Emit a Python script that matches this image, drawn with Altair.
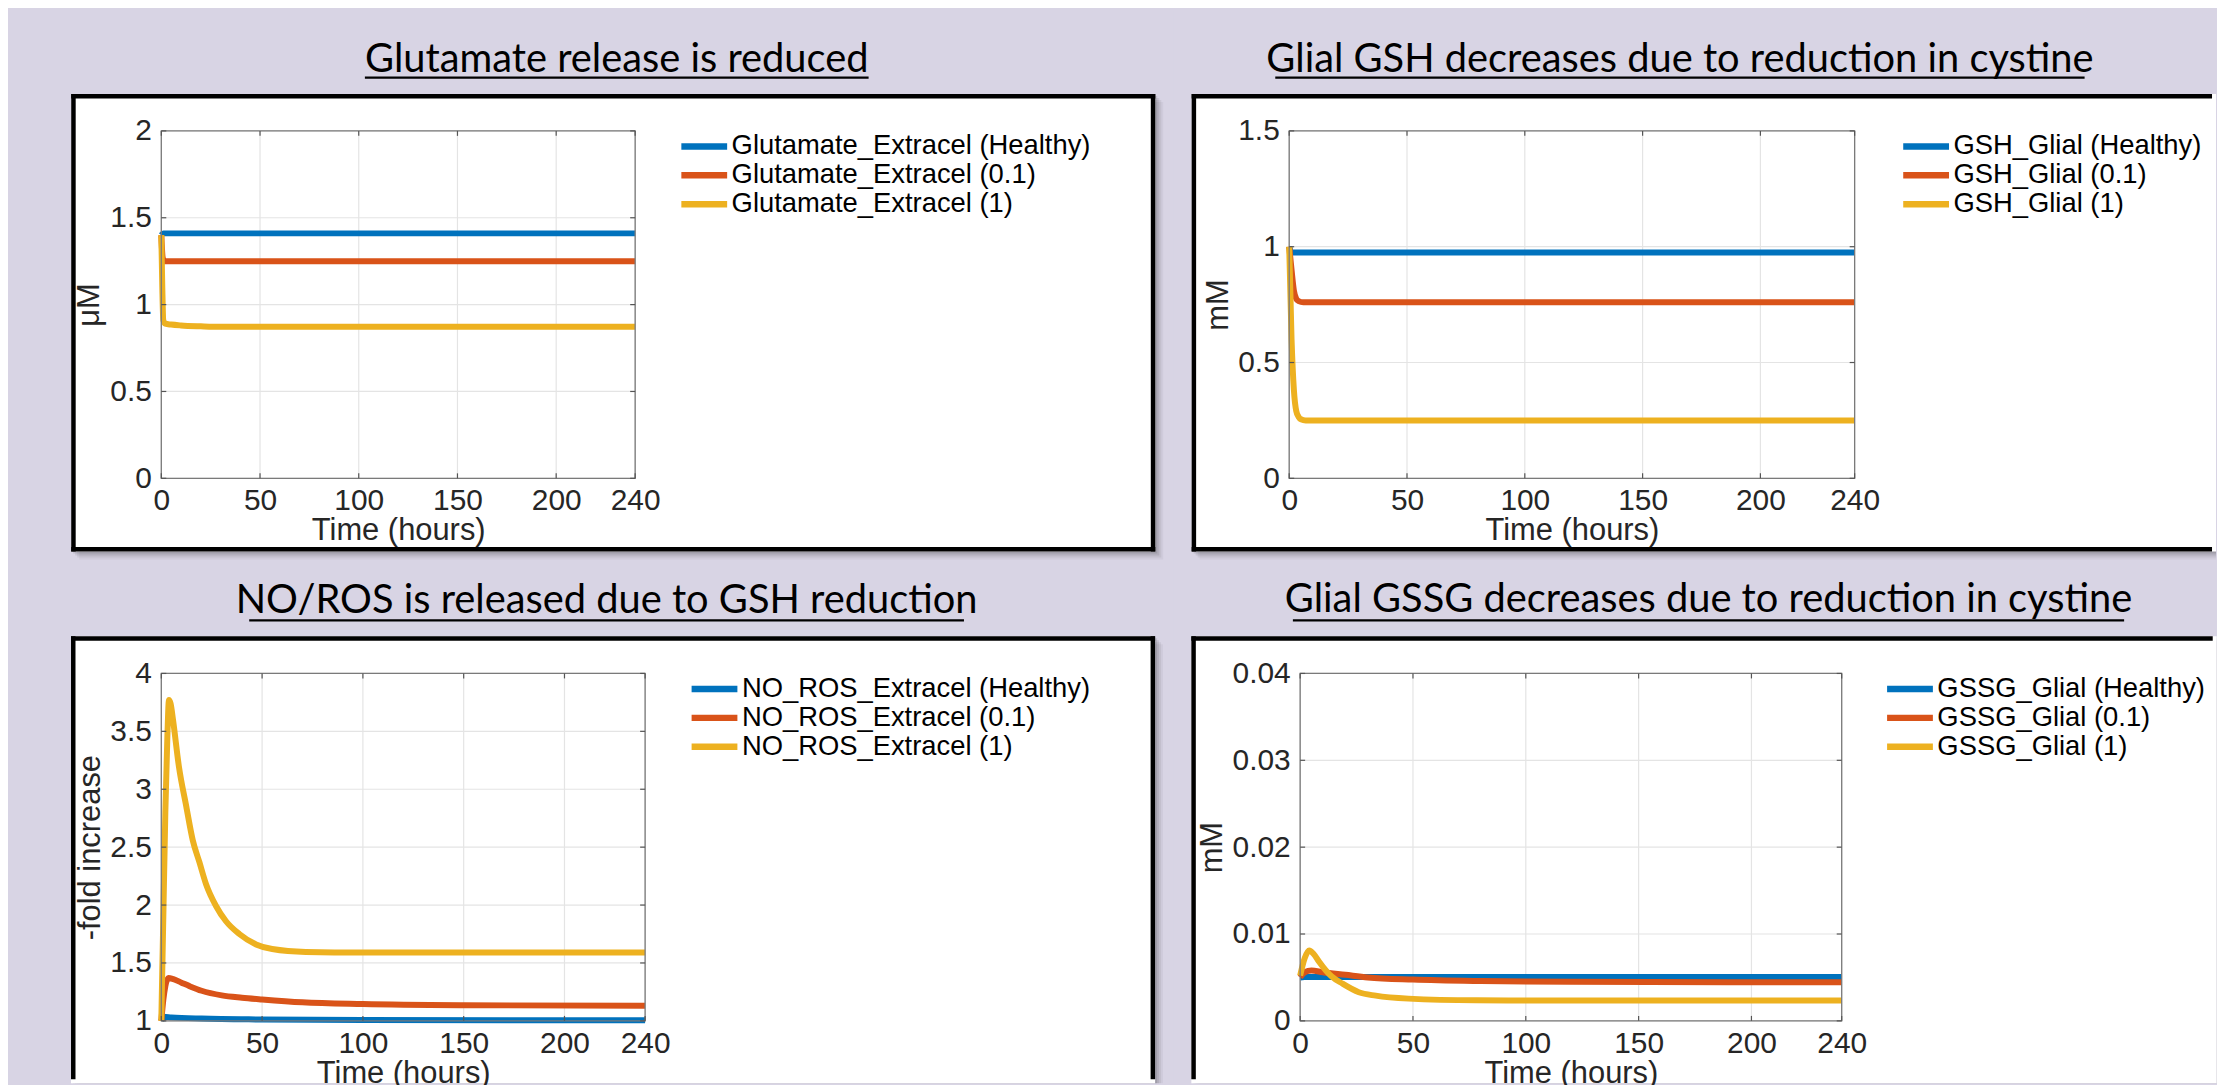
import altair as alt
import pandas as pd

BG = "#D8D4E4"
SERIES_COLORS = ["#0072BD", "#D95319", "#EDB120"]
TEXT_GRAY = "#262626"
TICK_FONT = "Liberation Sans"
TITLE_FONT = "Lato"

TIME_TICKS = [0, 50, 100, 150, 200, 240]

# ---------------- Glutamate (top left) ----------------
GLU_NAMES = ["Glutamate_Extracel (Healthy)", "Glutamate_Extracel (0.1)", "Glutamate_Extracel (1)"]
GLU_T_H = [0, 1, 3, 240]
GLU_V_H = [1.40, 1.41, 1.41, 1.41]
GLU_T_01 = [0, 0.7, 1.5, 3, 240]
GLU_V_01 = [1.40, 1.27, 1.25, 1.25, 1.25]
GLU_T_1 = [0, 0.5, 1, 2, 5, 10, 20, 30, 60, 240]
GLU_V_1 = [1.40, 1.10, 0.91, 0.89, 0.885, 0.88, 0.875, 0.872, 0.872, 0.872]
GLU_YTICKS = [0, 0.5, 1, 1.5, 2]

# ---------------- GSH glial (top right) ----------------
GSH_NAMES = ["GSH_Glial (Healthy)", "GSH_Glial (0.1)", "GSH_Glial (1)"]
GSH_T_H = [0, 1, 2, 240]
GSH_V_H = [1.0, 0.975, 0.975, 0.975]
GSH_T_01 = [0, 1, 2, 3, 4, 6, 240]
GSH_V_01 = [1.0, 0.90, 0.81, 0.775, 0.765, 0.76, 0.76]
GSH_T_1 = [0, 1, 2, 3, 4, 5, 7, 240]
GSH_V_1 = [1.0, 0.60, 0.38, 0.29, 0.265, 0.255, 0.25, 0.25]
GSH_YTICKS = [0, 0.5, 1, 1.5]

# ---------------- NO/ROS (bottom left) ----------------
NO_NAMES = ["NO_ROS_Extracel (Healthy)", "NO_ROS_Extracel (0.1)", "NO_ROS_Extracel (1)"]
NO_T_H = [0, 1, 5, 20, 50, 100, 240]
NO_V_H = [1.0, 1.035, 1.03, 1.02, 1.012, 1.007, 1.005]
NO_T_01 = [0, 1, 2, 3.5, 6, 10, 14, 20, 30, 40, 50, 70, 100, 150, 240]
NO_V_01 = [1.0, 1.18, 1.30, 1.37, 1.36, 1.33, 1.30, 1.26, 1.22, 1.20, 1.185, 1.16, 1.145, 1.135, 1.13]
NO_T_1 = [0, 1, 2, 3, 3.8, 4.6, 5.8, 8.7, 12.4, 15.6, 18.9, 22.2, 27.2, 32.1, 38.7, 47, 55, 71.7, 100, 150, 240]
NO_V_1 = [1.0, 1.9, 2.8, 3.45, 3.77, 3.74, 3.60, 3.20, 2.85, 2.56, 2.37, 2.18, 1.99, 1.86, 1.75, 1.66, 1.62, 1.595, 1.59, 1.59, 1.59]
NO_YTICKS = [1, 1.5, 2, 2.5, 3, 3.5, 4]

# ---------------- GSSG glial (bottom right) ----------------
GSSG_NAMES = ["GSSG_Glial (Healthy)", "GSSG_Glial (0.1)", "GSSG_Glial (1)"]
GSSG_T_H = [0, 2, 240]
GSSG_V_H = [0.0050, 0.00505, 0.00505]
GSSG_T_01 = [0, 2, 5, 10, 20, 30, 50, 80, 120, 240]
GSSG_V_01 = [0.0050, 0.0056, 0.0058, 0.0056, 0.0053, 0.0050, 0.00475, 0.00458, 0.0045, 0.00444]
GSSG_T_1 = [0, 2, 4, 6, 8.4, 11.4, 14, 18.7, 26, 33.5, 48, 78, 120, 240]
GSSG_V_1 = [0.0052, 0.0072, 0.0081, 0.0077, 0.0068, 0.0058, 0.0051, 0.0043, 0.0033, 0.0029, 0.00256, 0.00237, 0.00234, 0.00234]
GSSG_YTICKS = [0, 0.01, 0.02, 0.03, 0.04]

PANELS = [
    dict(title="Glutamate release is reduced", ytitle="\u03bcM", names=GLU_NAMES,
         series=[(GLU_T_H, GLU_V_H), (GLU_T_01, GLU_V_01), (GLU_T_1, GLU_V_1)],
         ydom=[0, 2], yticks=GLU_YTICKS,
         plot=(161.5, 129, 476, 349), cell=(8, 1178, 8, 568), box=(71, 92, 1160, 551.5),
         borders="TLRB", tcx=619, tbase=70, uline=(366, 872, 75.5), legx=680.4, ytx=98.3),
    dict(title="Glial GSH decreases due to reduction in cystine", ytitle="mM", names=GSH_NAMES,
         series=[(GSH_T_H, GSH_V_H), (GSH_T_01, GSH_V_01), (GSH_T_1, GSH_V_1)],
         ydom=[0, 1.5], yticks=GSH_YTICKS,
         plot=(1294, 129, 568, 349), cell=(1178, 2225, 8, 568), box=(1196, 92, 2400, 551.5),
         borders="TLB", tcx=1686.5, tbase=69.5, uline=(1280, 2093, 75.5), legx=1907.3, ytx=1232),
    dict(title="NO/ROS is released due to GSH reduction", ytitle="-fold increase", names=NO_NAMES,
         series=[(NO_T_H, NO_V_H), (NO_T_01, NO_V_01), (NO_T_1, NO_V_1)],
         ydom=[1, 4], yticks=NO_YTICKS,
         plot=(161.7, 673.3, 486, 349), cell=(8, 1178, 568, 1085), box=(71, 636, 1160, 1300),
         borders="TLR", tcx=609, tbase=613, uline=(250, 968, 620), legx=690.9, ytx=99.5),
    dict(title="Glial GSSG decreases due to reduction in cystine", ytitle="mM", names=GSSG_NAMES,
         series=[(GSSG_T_H, GSSG_V_H), (GSSG_T_01, GSSG_V_01), (GSSG_T_1, GSSG_V_1)],
         ydom=[0, 0.04], yticks=GSSG_YTICKS,
         plot=(1304.3, 673.3, 544, 349), cell=(1178, 2225, 568, 1085), box=(1195, 636, 2400, 1300),
         borders="TL", tcx=1714.5, tbase=612, uline=(1297, 2132, 620), legx=1890.4, ytx=1225.4),
]

ONE = pd.DataFrame({"k": [1]})
BW = 4.5  # box border width


def vrect(x0, x1, y0, y1, **mk):
    return alt.Chart(ONE).mark_rect(**mk).encode(
        x=alt.value(x0), x2=alt.value(x1), y=alt.value(y0), y2=alt.value(y1))


def vrule(x0, x1, y0, y1, **mk):
    return alt.Chart(ONE).mark_rule(**mk).encode(
        x=alt.value(x0), x2=alt.value(x1), y=alt.value(y0), y2=alt.value(y1))


def make_panel(p):
    px, py, W, H = p["plot"]
    cx0, cx1, cy0, cy1 = p["cell"]
    RX = lambda v: v - px
    RY = lambda v: v - py
    clx = lambda v: min(max(v, cx0), cx1)
    cly = lambda v: min(max(v, cy0), cy1)
    layers = []
    # cell background (defines the panel's bounds)
    layers.append(vrect(RX(cx0), RX(cx1), RY(cy0), RY(cy1), fill=BG))
    bx0, by0, bx1, by1 = p["box"]
    # soft shadow
    for off, op in [(2, 0.10), (4, 0.08), (6, 0.06), (8, 0.04)]:
        layers.append(vrect(RX(clx(bx0 + off)), RX(clx(bx1 + off)), RY(cly(by0 + off)), RY(cly(by1 + off)),
                            fill="#000000", fillOpacity=op))
    # white box
    layers.append(vrect(RX(bx0), RX(clx(bx1)), RY(by0), RY(cly(by1)), fill="white"))
    # borders
    ex1 = min(bx1, cx1 - 4)
    ey1 = min(by1, cy1 - 4)
    h = BW / 2
    if "T" in p["borders"]:
        layers.append(vrule(RX(bx0), RX(ex1), RY(by0 + h), RY(by0 + h), color="black", strokeWidth=BW))
    if "B" in p["borders"]:
        layers.append(vrule(RX(bx0), RX(ex1), RY(by1 - h), RY(by1 - h), color="black", strokeWidth=BW))
    if "L" in p["borders"]:
        layers.append(vrule(RX(bx0 + h), RX(bx0 + h), RY(by0), RY(ey1), color="black", strokeWidth=BW))
    if "R" in p["borders"]:
        layers.append(vrule(RX(bx1 - h), RX(bx1 - h), RY(by0), RY(ey1), color="black", strokeWidth=BW))
    # underlined title
    layers.append(alt.Chart(ONE).mark_text(text=p["title"], font=TITLE_FONT, fontSize=40, color="black",
                                           align="center", baseline="alphabetic").encode(
        x=alt.value(RX(p["tcx"])), y=alt.value(RY(p["tbase"]))))
    ux0, ux1, uy = p["uline"]
    layers.append(vrule(RX(ux0), RX(ux1), RY(uy), RY(uy), color="black", strokeWidth=2.2))

    xscale = alt.Scale(domain=[0, 240], nice=False, zero=False)
    yscale = alt.Scale(domain=p["ydom"], nice=False, zero=False)
    xaxis = alt.Axis(values=TIME_TICKS, format="d", title="Time (hours)", grid=False, ticks=False,
                     tickSize=0, domain=False, labelFont=TICK_FONT, labelFontSize=30, labelColor=TEXT_GRAY,
                     labelPadding=31.7, labelBaseline="alphabetic", labelAlign="center",
                     labelFlush=False, labelOverlap=False,
                     titleFont=TICK_FONT, titleFontSize=31, titleColor=TEXT_GRAY, titleFontWeight="normal",
                     titleX=W / 2, titleY=61.7, titleAlign="center", titleBaseline="alphabetic", zindex=1)
    yaxis = alt.Axis(values=p["yticks"], format="~g", title=p["ytitle"], grid=False, ticks=False,
                     tickSize=0, domain=False, labelFont=TICK_FONT, labelFontSize=30, labelColor=TEXT_GRAY,
                     labelPadding=10, labelAlign="right", labelBaseline="middle",
                     labelFlush=False, labelOverlap=False,
                     titleFont=TICK_FONT, titleFontSize=31, titleColor=TEXT_GRAY, titleFontWeight="normal",
                     titleX=RX(p["ytx"]), titleY=H / 2, titleAngle=270, titleAlign="center",
                     titleBaseline="alphabetic", zindex=1)
    X = lambda f: alt.X(f, scale=xscale, axis=xaxis)
    Y = lambda f: alt.Y(f, scale=yscale, axis=yaxis)

    yt = pd.DataFrame({"v": p["yticks"]})
    xt = pd.DataFrame({"t": TIME_TICKS})
    # grid
    layers.append(alt.Chart(xt).mark_rule(color="#E4E4E4", strokeWidth=1.2).encode(
        x=X("t:Q"), y=alt.value(0), y2=alt.value(H)))
    layers.append(alt.Chart(yt).mark_rule(color="#E4E4E4", strokeWidth=1.2).encode(
        y=Y("v:Q"), x=alt.value(0), x2=alt.value(W)))

    legend = alt.Legend(orient="none", legendX=RX(p["legx"]), legendY=2, title=None,
                        symbolType="stroke", symbolSize=2116, symbolStrokeWidth=6.5,
                        clipHeight=27.3, rowPadding=0, padding=0, labelOffset=1, symbolOffset=0,
                        labelFont=TICK_FONT, labelFontSize=27.5, labelColor="black", labelLimit=0)
    cscale = alt.Scale(domain=p["names"], range=SERIES_COLORS)
    for name, (tt, vv) in zip(p["names"], p["series"]):
        df = pd.DataFrame({"t": tt, "v": vv, "s": [name] * len(tt)})
        layers.append(alt.Chart(df).mark_line(strokeWidth=6, interpolate="monotone").encode(
            x=X("t:Q"), y=Y("v:Q"), color=alt.Color("s:N", scale=cscale, legend=legend)))

    # axes frame
    layers.append(vrect(0, W, 0, H, filled=False, stroke="#7A7A7A", strokeWidth=1.3))
    # inward tick marks
    tk = dict(color="#555555", strokeWidth=1.2)
    layers.append(alt.Chart(xt).mark_rule(**tk).encode(x=X("t:Q"), y=alt.value(H), y2=alt.value(H - 5)))
    layers.append(alt.Chart(xt).mark_rule(**tk).encode(x=X("t:Q"), y=alt.value(0), y2=alt.value(5)))
    layers.append(alt.Chart(yt).mark_rule(**tk).encode(y=Y("v:Q"), x=alt.value(0), x2=alt.value(5)))
    layers.append(alt.Chart(yt).mark_rule(**tk).encode(y=Y("v:Q"), x=alt.value(W), x2=alt.value(W - 5)))

    return alt.layer(*layers).properties(width=W, height=H)


charts = [make_panel(p) for p in PANELS]
top = alt.hconcat(charts[0], charts[1], spacing=0).resolve_scale(color="independent").resolve_legend(color="independent")
bottom = alt.hconcat(charts[2], charts[3], spacing=0).resolve_scale(color="independent").resolve_legend(color="independent")
chart = (alt.vconcat(top, bottom, spacing=0)
         .resolve_scale(color="independent").resolve_legend(color="independent")
         .properties(padding=0, background=BG)
         .configure_view(stroke=None))

chart.save("out.html", embed_options={"renderer": "svg", "actions": False})
